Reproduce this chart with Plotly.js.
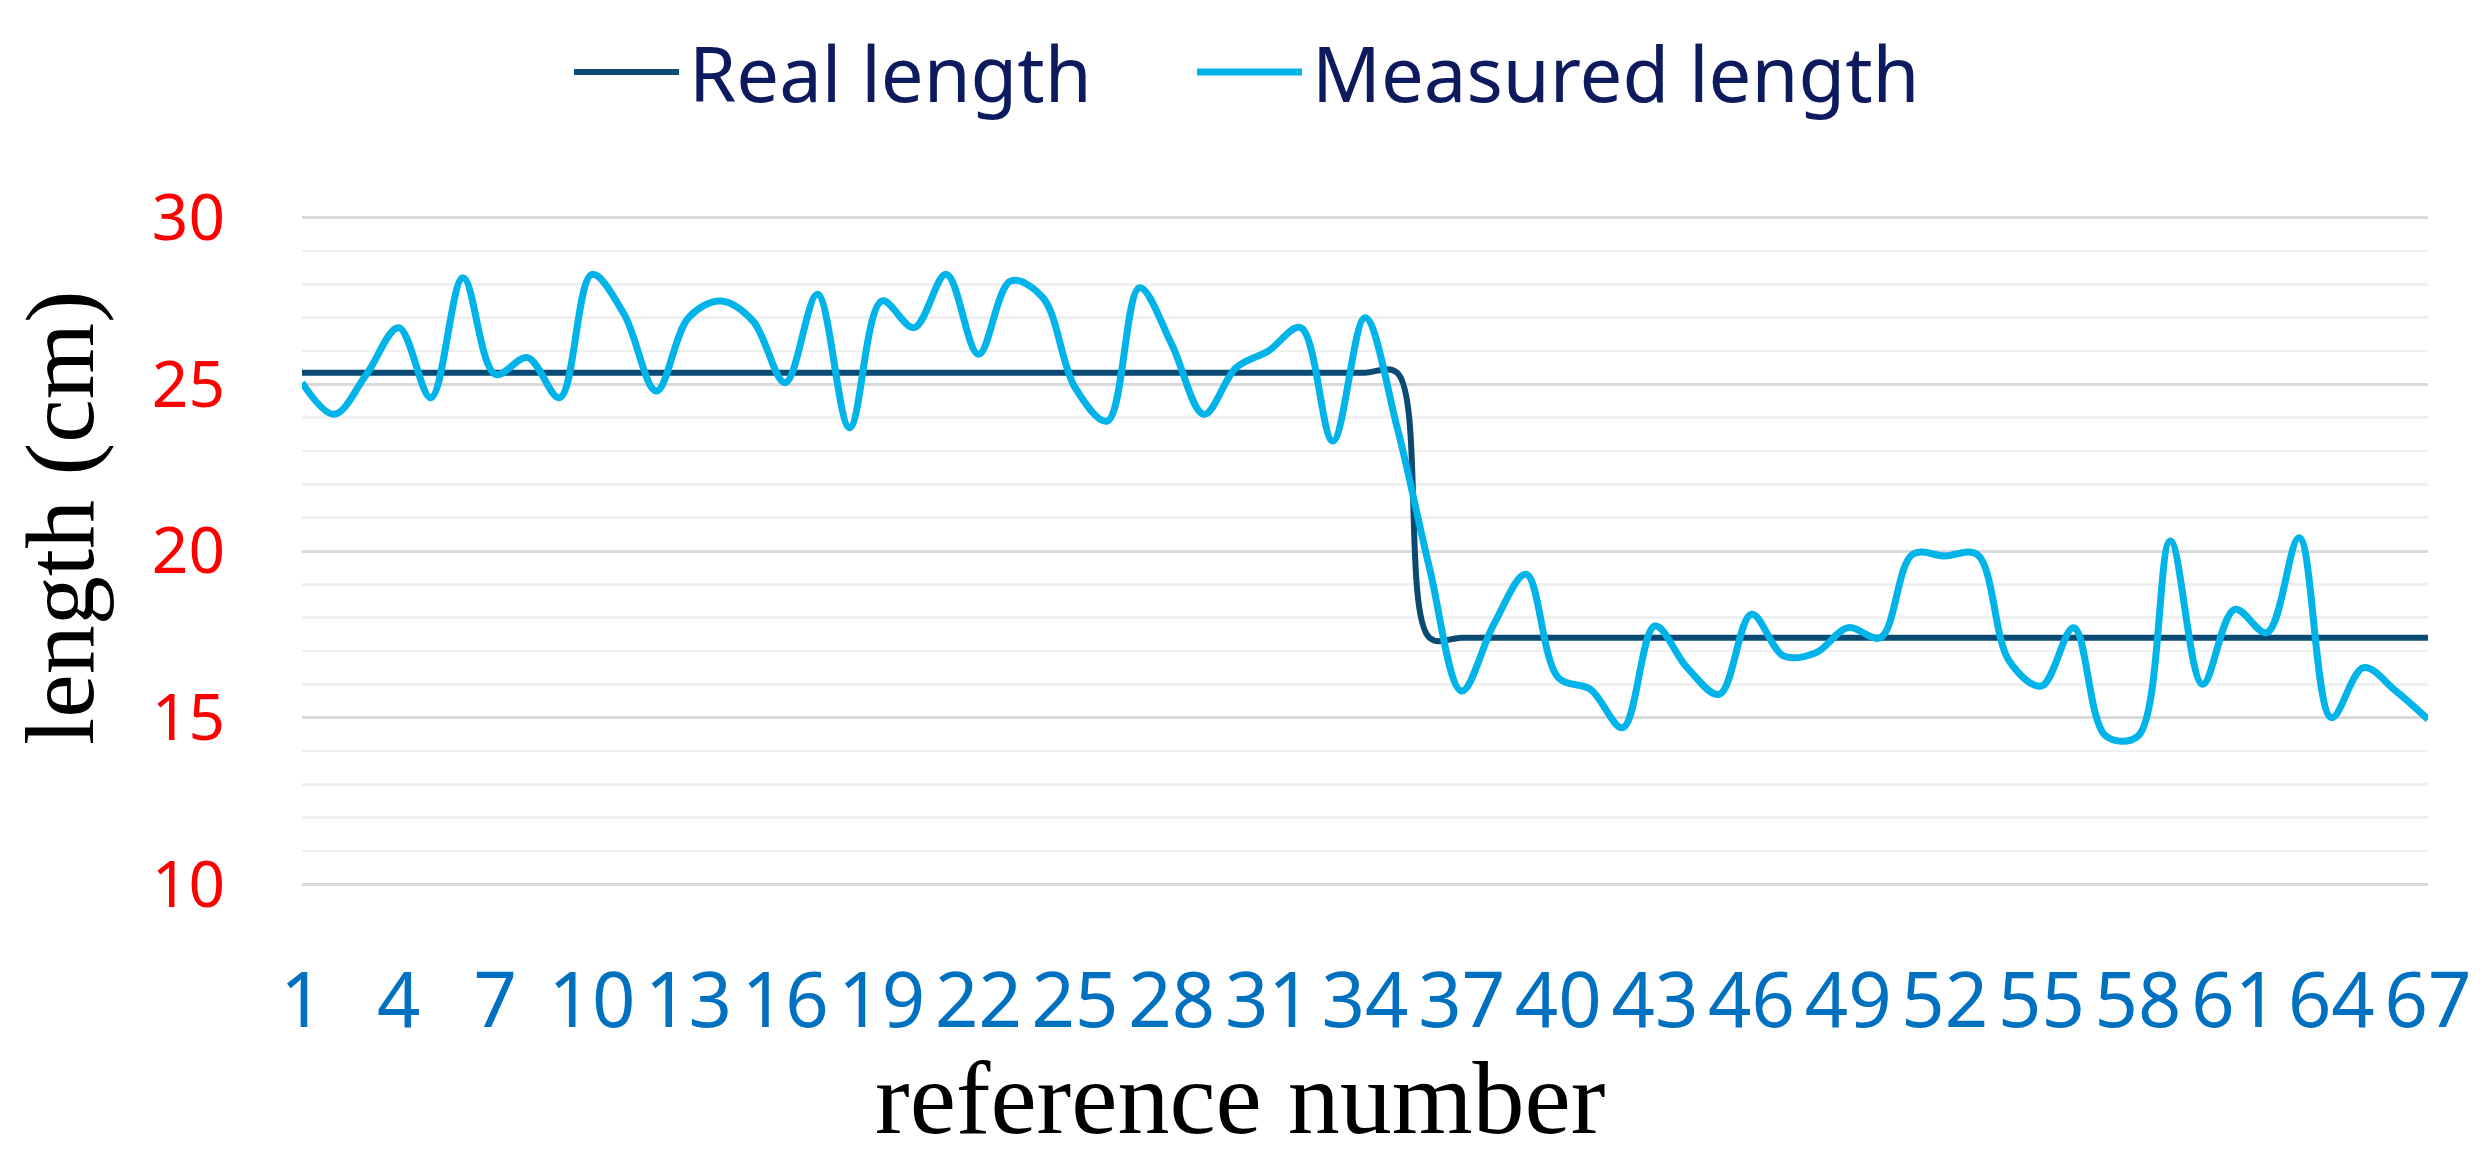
<!DOCTYPE html>
<html>
<head>
<meta charset="utf-8">
<script src="https://cdn.plot.ly/plotly-3.0.1.min.js"></script>
<style>
    html, body { margin: 0; padding: 0; background: #ffffff; }
    #graph { width: 2486px; height: 1167px; }
</style>
</head>
<body>
<div id="graph"></div>
<script>
// reference numbers (x categories)
const referenceNumbers = [
    1, 2, 3, 4, 5, 6, 7, 8, 9, 10, 11, 12, 13, 14, 15, 16, 17, 18, 19, 20,
    21, 22, 23, 24, 25, 26, 27, 28, 29, 30, 31, 32, 33, 34, 35, 36, 37, 38, 39, 40,
    41, 42, 43, 44, 45, 46, 47, 48, 49, 50, 51, 52, 53, 54, 55, 56, 57, 58, 59, 60,
    61, 62, 63, 64, 65, 66, 67
];

// real length, cm
const realLength = [
    25.35, 25.35, 25.35, 25.35, 25.35, 25.35, 25.35, 25.35, 25.35, 25.35,
    25.35, 25.35, 25.35, 25.35, 25.35, 25.35, 25.35, 25.35, 25.35, 25.35,
    25.35, 25.35, 25.35, 25.35, 25.35, 25.35, 25.35, 25.35, 25.35, 25.35,
    25.35, 25.35, 25.35, 25.35, 25.35,
    17.4, 17.4, 17.4, 17.4, 17.4, 17.4, 17.4, 17.4, 17.4, 17.4,
    17.4, 17.4, 17.4, 17.4, 17.4, 17.4, 17.4, 17.4, 17.4, 17.4,
    17.4, 17.4, 17.4, 17.4, 17.4, 17.4, 17.4, 17.4, 17.4, 17.4,
    17.4, 17.4
];

// measured length, cm
const measuredLength = [
    25.05, 24.1, 25.3, 26.7, 24.6, 28.2, 25.3, 25.8, 24.6, 28.3,
    27.1, 24.8, 27.0, 27.5, 26.9, 25.05, 27.7, 23.7, 27.5, 26.7,
    28.3, 25.9, 28.1, 27.6, 24.9, 23.9, 27.9, 26.2, 24.1, 25.5,
    26.0, 26.7, 23.3, 27.0, 23.7, 19.5, 15.8, 17.8, 19.3, 16.2,
    15.85, 14.7, 17.75, 16.5, 15.7, 18.1, 16.85, 16.95, 17.7, 17.4,
    19.9, 19.85, 19.9, 16.7, 15.95, 17.7, 14.45, 14.45, 20.3, 16.0,
    18.25, 17.55, 20.4, 15.0, 16.5, 15.8, 14.95
];

const xTickValues = [1, 4, 7, 10, 13, 16, 19, 22, 25, 28, 31, 34, 37, 40, 43, 46, 49, 52, 55, 58, 61, 64, 67];
const yTickValues = [10, 15, 20, 25, 30];

const legendFont = {family: 'Noto Sans, Open Sans, sans-serif', size: 76, color: '#0d1b5e'};
const titleFont = {family: 'Liberation Serif, Times New Roman, serif', color: '#000000'};


function drawChart() {
    const realTrace = {
        x: referenceNumbers,
        y: realLength,
        mode: 'lines',
        type: 'scatter',
        name: 'Real length',
        legend: 'legend',
        line: {color: '#0b4a72', width: 6, shape: 'spline', smoothing: 1}
    };

    const measuredTrace = {
        x: referenceNumbers,
        y: measuredLength,
        mode: 'lines',
        type: 'scatter',
        name: 'Measured length',
        legend: 'legend2',
        line: {color: '#00b4ea', width: 7, shape: 'spline', smoothing: 1}
    };

    const layout = {
        width: 2486,
        height: 1167,
        paper_bgcolor: '#ffffff',
        plot_bgcolor: '#ffffff',
        margin: {l: 302, r: 58, t: 216, b: 281, autoexpand: false},
        showlegend: true,
        legend: {
            x: 0.1256, xanchor: 'left',
            y: 1.2147, yanchor: 'middle',
            font: legendFont,
            itemwidth: 110,
            bgcolor: 'rgba(0,0,0,0)'
        },
        legend2: {
            x: 0.4186, xanchor: 'left',
            y: 1.2147, yanchor: 'middle',
            font: legendFont,
            itemwidth: 110,
            bgcolor: 'rgba(0,0,0,0)'
        },
        xaxis: {
            range: [1, 67],
            tickmode: 'array',
            tickvals: xTickValues,
            ticktext: xTickValues.map(String),
            showgrid: false,
            zeroline: false,
            showline: false,
            ticks: '',
            ticklabelstandoff: 64,
            tickfont: {family: 'Liberation Sans Narrow, Noto Sans, sans-serif', size: 76, color: '#0070c0'},
            automargin: false
        },
        yaxis: {
            // padded a hair so the 10 and 30 gridlines are drawn
            range: [9.95, 30.05],
            tickmode: 'array',
            tickvals: yTickValues,
            showgrid: true,
            gridcolor: '#d9d9d9',
            gridwidth: 3,
            minor: {dtick: 1, showgrid: true, gridcolor: '#f0f0f0', gridwidth: 2.5},
            zeroline: false,
            showline: false,
            ticks: '',
            ticklabelstandoff: 76,
            tickfont: {family: 'Noto Sans, Open Sans, sans-serif', size: 64, color: '#ff0000'},
            automargin: false
        },
        annotations: [
            {
                text: 'reference number',
                xref: 'paper', yref: 'paper',
                x: 0.4412, y: -0.315,
                xanchor: 'center', yanchor: 'middle',
                showarrow: false,
                font: Object.assign({size: 104}, titleFont)
            },
            {
                text: 'length (cm)',
                xref: 'paper', yref: 'paper',
                x: -0.1138, y: 0.5495,
                xanchor: 'center', yanchor: 'middle',
                textangle: -90,
                showarrow: false,
                font: Object.assign({size: 98}, titleFont)
            }
        ]
    };

    const config = {
        displayModeBar: false,
        staticPlot: true
    };

    Plotly.newPlot('graph', [realTrace, measuredTrace], layout, config).then(function () {
        // stretch the legend swatches to the item width, like the original
        document.querySelectorAll('.legendlines path').forEach(function (p) {
            p.setAttribute('d', 'M5,0h105');
        });
    });
}

drawChart();
</script>
</body>
</html>
